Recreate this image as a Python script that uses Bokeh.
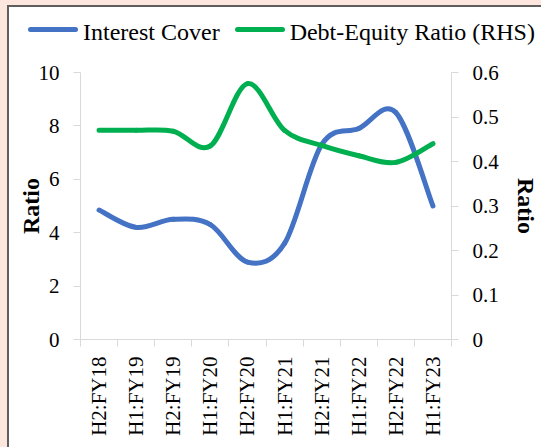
import math
from bokeh.plotting import figure
from bokeh.layouts import column
from bokeh.models import Range1d, LinearAxis, FixedTicker, ColumnDataSource, Div
from bokeh.embed import file_html
from bokeh.resources import INLINE

# ---- data ----
categories = ["H2:FY18", "H1:FY19", "H2:FY19", "H1:FY20", "H2:FY20",
              "H1:FY21", "H2:FY21", "H1:FY22", "H2:FY22", "H1:FY23"]
interest_cover = [4.85, 4.2, 4.5, 4.3, 2.9, 3.6, 7.3, 7.9, 8.5, 5.0]
debt_equity = [0.47, 0.47, 0.468, 0.435, 0.575, 0.47, 0.436, 0.413, 0.398, 0.44]
series_names = ["Interest Cover", "Debt-Equity Ratio (RHS)"]
left_ticks = [0, 2, 4, 6, 8, 10]
right_ticks = [0, 0.1, 0.2, 0.3, 0.4, 0.5, 0.6]

BLUE = "#4472C4"
GREEN = "#00B050"
AXIS = "#D9D9D9"
FONT = "Liberation Serif"

n = len(categories)
xs = [i + 0.5 for i in range(n)]


def smooth_source(x, y):
    """Excel-like smoothed line as cubic Bezier segments through the points."""
    d = dict(x0=[], y0=[], x1=[], y1=[], cx0=[], cy0=[], cx1=[], cy1=[])
    m = len(x)
    for i in range(m - 1):
        a = i - 1 if i > 0 else i
        b = i + 2 if i + 2 < m else i + 1
        d["x0"].append(x[i]); d["y0"].append(y[i])
        d["x1"].append(x[i + 1]); d["y1"].append(y[i + 1])
        d["cx0"].append(x[i] + (x[i + 1] - x[a]) / 6.0)
        d["cy0"].append(y[i] + (y[i + 1] - y[a]) / 6.0)
        d["cx1"].append(x[i + 1] - (x[b] - x[i]) / 6.0)
        d["cy1"].append(y[i + 1] - (y[b] - y[i]) / 6.0)
    return ColumnDataSource(d)


W = 532
LEG_H = 40
H = 440 - LEG_H

p = figure(width=W, height=H, output_backend="svg", toolbar_location=None,
           x_range=Range1d(0, n), y_range=Range1d(0, 10),
           min_border_left=71, min_border_right=86,
           min_border_top=65 - LEG_H, min_border_bottom=108,
           background_fill_color="white", border_fill_color="white",
           outline_line_color=None)
p.grid.visible = False
p.extra_y_ranges = {"de": Range1d(0, 0.6)}

# x axis
xa = p.xaxis[0]
xa.ticker = FixedTicker(ticks=xs, minor_ticks=list(range(n + 1)))
xa.major_label_overrides = {x: c for x, c in zip(xs, categories)}
xa.major_label_orientation = math.pi / 2
xa.major_tick_out = 0
xa.major_tick_in = 0
xa.minor_tick_out = 7
xa.minor_tick_in = 0
xa.minor_tick_line_color = AXIS
xa.axis_line_color = AXIS
xa.major_label_standoff = 10
xa.major_label_text_font = FONT
xa.major_label_text_font_size = "21px"
xa.major_label_text_color = "black"

# left y axis
ya = p.yaxis[0]
ya.ticker = FixedTicker(ticks=left_ticks)
ya.axis_label = "Ratio"

# right y axis
ra = LinearAxis(y_range_name="de", ticker=FixedTicker(ticks=right_ticks),
                axis_label="Ratio")
ra.major_label_overrides = {0: "0"}
p.add_layout(ra, "right")

for ax, st in ((ya, 14), (ra, 14)):
    ax.major_tick_out = 7
    ax.major_tick_in = 0
    ax.minor_tick_line_color = None
    ax.major_tick_line_color = AXIS
    ax.axis_line_color = AXIS
    ax.major_label_standoff = st
    ax.major_label_text_font = FONT
    ax.major_label_text_font_size = "21px"
    ax.major_label_text_color = "black"
    ax.axis_label_text_font = FONT
    ax.axis_label_text_font_size = "24px"
    ax.axis_label_text_font_style = "bold"
    ax.axis_label_text_color = "black"
ya.axis_label_standoff = -8
ra.axis_label_standoff = 11

# series
p.bezier(x0="x0", y0="y0", x1="x1", y1="y1", cx0="cx0", cy0="cy0",
         cx1="cx1", cy1="cy1", source=smooth_source(xs, interest_cover),
         line_color=BLUE, line_width=5, line_cap="round")
p.bezier(x0="x0", y0="y0", x1="x1", y1="y1", cx0="cx0", cy0="cy0",
         cx1="cx1", cy1="cy1", source=smooth_source(xs, debt_equity),
         line_color=GREEN, line_width=5, line_cap="round",
         y_range_name="de")

# legend (horizontal, above the plot)
def swatch(color, ml):
    return ('<span style="display:inline-block;width:50px;height:5px;'
            f'border-radius:2.5px;background:{color};vertical-align:8px;'
            f'margin-left:{ml}px"></span>')

leg_html = (
    f'<div style="padding-top:13px;padding-left:19px;font-family:\'{FONT}\';'
    'font-size:24px;line-height:24px;color:#000;white-space:nowrap;">'
    + swatch(BLUE, 0)
    + f'<span style="margin-left:5px">{series_names[0]}</span>'
    + swatch(GREEN, 15)
    + f'<span style="margin-left:5px">{series_names[1]}</span>'
    + '</div>'
)
leg = Div(text=leg_html, width=W, height=LEG_H,
          styles={"margin": "0", "padding": "0", "background": "white"})

lay = column(leg, p, spacing=0)
lay.styles = {
    "margin-left": "7px",
    "margin-top": "5px",
    "border-left": "2px solid #5E5E5E",
    "border-top": "2px solid #5E5E5E",
    "background": "white",
    "box-shadow": "-9px -9px 0 0 #FCE6DE, -9px 0 0 0 #FCE6DE, 0 -9px 0 0 #FCE6DE",
}

open("out.html", "w").write(file_html(lay, INLINE))
